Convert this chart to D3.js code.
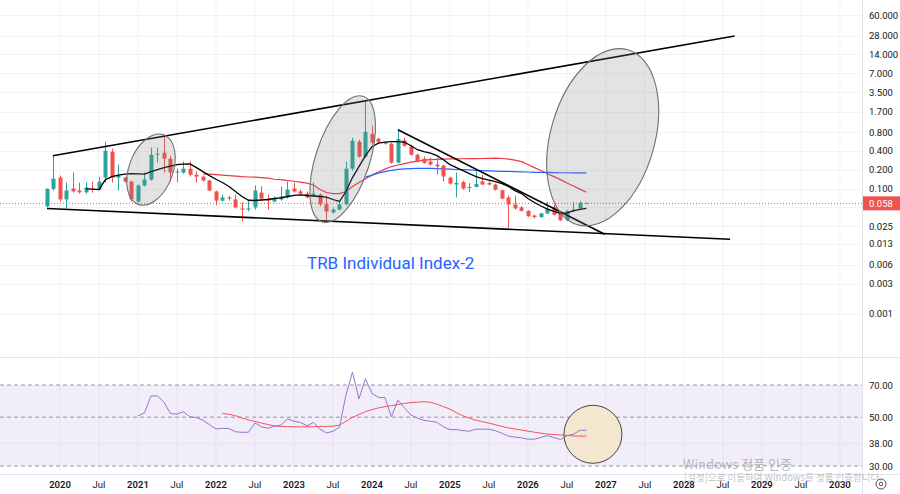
<!DOCTYPE html>
<html>
<head>
<meta charset="utf-8">
<script src="https://cdn.jsdelivr.net/npm/d3@7"></script>
<style>
  body { margin: 0; background: #fff; }
  svg { display: block; font-family: Roboto, "Noto Sans", sans-serif; }
</style>
</head>
<body>
<svg id="chart" width="900" height="494"></svg>
<script>
// monthly candles, index 0 = Nov 2019
var open  = [0.052,0.099,0.150,0.067,0.100,0.093,0.087,0.100,0.096,0.150,0.389,0.150,0.150,0.129,0.062,0.112,0.139,0.348,0.375,0.301,
             0.180,0.180,0.208,0.167,0.155,0.134,0.090,0.064,0.072,0.067,0.048,0.046,0.050,0.086,0.069,0.062,0.067,0.072,0.100,0.090,
             0.083,0.077,0.080,0.056,0.0415,0.046,0.056,0.208,0.562,0.324,0.753,0.627,0.542,0.523,0.260,0.590,0.475,0.348,0.300,0.270,
             0.242,0.233,0.150,0.116,0.127,0.102,0.106,0.130,0.123,0.116,0.094,0.072,0.0556,0.050,0.044,0.037,0.035,0.040,0.051,0.040,
             0.031,0.044,0.048,0.059];
var high  = [0.101,0.336,0.161,0.125,0.180,0.125,0.125,0.129,0.155,0.562,0.435,0.242,0.155,0.134,0.116,0.180,0.451,0.451,0.740,0.336,
             0.208,0.270,0.270,0.187,0.161,0.139,0.093,0.080,0.077,0.080,0.060,0.067,0.112,0.108,0.080,0.075,0.108,0.129,0.125,0.096,
             0.090,0.125,0.083,0.075,0.050,0.062,0.270,0.652,0.604,2.530,1.010,0.652,0.562,0.542,0.870,0.652,0.504,0.362,0.324,0.312,
             0.312,0.242,0.155,0.180,0.134,0.124,0.190,0.167,0.130,0.120,0.096,0.077,0.077,0.052,0.045,0.038,0.041,0.061,0.0556,0.041,
             0.045,0.061,0.063,0.059];
var low   = [0.050,0.093,0.062,0.048,0.086,0.083,0.083,0.086,0.093,0.125,0.125,0.093,0.125,0.062,0.060,0.108,0.134,0.260,0.180,0.129,
             0.125,0.173,0.155,0.125,0.129,0.090,0.054,0.062,0.064,0.048,0.030,0.043,0.046,0.067,0.046,0.060,0.064,0.069,0.086,0.080,
             0.069,0.075,0.052,0.031,0.040,0.045,0.054,0.194,0.312,0.312,0.504,0.523,0.504,0.251,0.251,0.467,0.336,0.260,0.251,0.233,
             0.167,0.130,0.116,0.072,0.096,0.088,0.104,0.114,0.112,0.093,0.067,0.023,0.046,0.043,0.035,0.033,0.034,0.039,0.037,0.030,
             0.030,0.043,0.047,0.057];
var close = [0.099,0.144,0.067,0.093,0.090,0.087,0.104,0.096,0.129,0.404,0.150,0.161,0.129,0.067,0.112,0.139,0.348,0.362,0.301,0.180,
             0.187,0.208,0.167,0.155,0.134,0.093,0.064,0.072,0.069,0.050,0.046,0.048,0.093,0.069,0.064,0.069,0.075,0.096,0.090,0.083,
             0.072,0.083,0.056,0.043,0.046,0.056,0.208,0.583,0.324,0.811,0.542,0.562,0.535,0.260,0.620,0.485,0.348,0.270,0.257,0.242,
             0.226,0.156,0.120,0.123,0.100,0.106,0.118,0.116,0.116,0.096,0.069,0.0556,0.048,0.044,0.036,0.035,0.040,0.048,0.038,0.031,
             0.044,0.046,0.059,0.058];

// moving averages (null = not drawn)
var maBlack = [null,null,null,null,null,null,0.099,0.098,0.096,0.139,0.155,0.164,0.170,0.173,0.172,0.170,0.187,0.201,0.216,0.229,
               0.242,0.246,0.248,0.216,0.187,0.161,0.141,0.125,0.108,0.0896,0.0746,0.065,0.0644,0.0656,0.0668,0.0693,0.0711,0.0746,0.078,0.079,
               0.0774,0.076,0.0746,0.0732,0.0668,0.0621,0.0896,0.150,0.225,0.336,0.467,0.532,0.552,0.562,0.562,0.552,0.485,0.419,0.389,0.368,
               0.336,0.290,0.242,0.216,0.194,0.173,0.155,0.144,0.136,0.129,0.120,0.108,0.0929,0.0832,0.0693,0.0598,0.0526,0.047,0.043,0.040,
               0.0407,0.0438,0.0463,0.048];
var maRed = [null,null,null,null,null,null,null,null,null,null,null,null,null,null,null,null,null,null,null,null,
             null,null,null,null,0.171,0.170,0.167,0.164,0.161,0.158,0.155,0.153,0.152,0.150,0.147,0.141,0.139,0.134,0.131,0.127,
             0.122,0.114,0.0964,0.0864,0.0832,0.0832,0.0896,0.108,0.125,0.144,0.164,0.184,0.205,0.225,0.238,0.251,0.265,0.275,0.285,0.290,
             0.293,0.296,0.298,0.299,0.300,0.301,0.301,0.303,0.304,0.306,0.303,0.296,0.285,0.270,0.242,0.216,0.194,0.173,0.155,0.139,
             0.123,0.110,0.098,0.0873];
var maBlue = [null,null,null,null,null,null,null,null,null,null,null,null,null,null,null,null,null,null,null,null,
              null,null,null,null,null,null,null,null,null,null,null,null,null,null,null,null,null,null,null,null,
              null,null,null,null,null,null,null,null,null,0.153,0.164,0.177,0.187,0.196,0.203,0.206,0.208,0.210,0.211,0.210,
              0.208,0.207,0.205,0.202,0.201,0.199,0.196,0.194,0.192,0.190,0.189,0.188,0.186,0.185,0.184,0.182,0.181,0.181,0.180,0.179,
              0.179,0.178,0.178,0.178];

var rsi = [null,null,null,null,null,null,null,null,null,null,null,null,null,null,50.7,52.3,62.4,62.4,58.5,51.9,
           51.6,52.9,50.2,49.8,48.4,46.2,44.2,44.5,44.4,42.9,42.7,42.7,47.1,45.2,44.5,45.5,46.0,49.1,47.9,47.3,
           45.7,47.3,44.1,42.4,43.1,45.0,63.0,80.0,60.6,74.6,64.2,61.5,61.3,50.2,59.8,55.2,51.1,49.5,48.4,47.9,
           47.4,45.2,43.9,43.9,43.4,43.2,44.1,44.1,44.1,43.4,42.3,41.0,40.6,40.3,39.7,39.7,40.5,41.2,40.4,39.6,
           41.2,41.8,43.6,43.6];
var rsiMa = [null,null,null,null,null,null,null,null,null,null,null,null,null,null,null,null,null,null,null,null,
             null,null,null,null,null,null,null,52.0,51.5,50.8,49.5,48.6,47.8,47.0,46.3,45.6,45.4,45.3,45.2,45.2,
             45.2,45.3,45.4,45.4,45.5,46.0,47.9,49.9,51.4,53.0,54.1,55.1,55.8,56.4,57.1,57.7,58.2,58.5,58.8,58.4,
             57.3,55.8,54.4,52.4,50.7,49.5,48.4,47.7,47.0,46.2,45.4,44.7,44.2,43.7,43.2,42.7,42.3,41.9,41.7,41.5,
             41.3,41.1,41.0,41.0];

var priceTicks = [60, 28, 14, 7, 3.5, 1.7, 0.8, 0.4, 0.2, 0.1, 0.05, 0.025, 0.013, 0.006, 0.003, 0.001];
var rsiTicks = [70, 50, 38, 30];
var rsiDashed = [70, 50, 30];
var timeLabels = ['2020','Jul','2021','Jul','2022','Jul','2023','Jul','2024','Jul','2025','Jul',
                  '2026','Jul','2027','Jul','2028','Jul','2029','Jul','2030'];
var firstLabelMonth = 2; // Jan 2020

// drawings: [monthIndex, price]
var trendLines = [
  [[0.9, 0.336], [105.8, 27.6]],
  [[0, 0.048], [105.1, 0.0154]],
  [[54, 0.873], [85.8, 0.0185]]
];
// ellipses: center [monthIndex, price], radii px, tilt deg
var ellipses = [
  { c: [16, 0.201], rx: 22, ry: 37, tilt: 20 },
  { c: [45.5, 0.296], rx: 27, ry: 66, tilt: 18 },
  { c: [85.5, 0.663], rx: 52, ry: 91, tilt: 16 }
];
var rsiCircle = { c: [84, 41.8], r: 29 };
var lastPrice = 0.058;

var W = 900, plotRight = 862;
var svg = d3.select('#chart');

var x = d3.scaleLinear().domain([-7.23, 125.4]).range([0, plotRight]);
var y = d3.scaleLog().domain([0.001, 60]).range([313.5, 15]);
var yr = d3.scaleLog().domain([30, 70]).range([466, 385]);

var fmt = d3.format('.3f');
var idx = d3.range(open.length);
var tickMonths = timeLabels.map(function (d, i) { return firstLabelMonth + 6 * i; });

// grid
var grid = svg.append('g');
grid.selectAll('line.v').data(tickMonths).enter().append('line')
  .attr('x1', function (d) { return x(d); }).attr('x2', function (d) { return x(d); })
  .attr('y1', 0).attr('y2', 475)
  .attr('stroke', '#f0f3fa').attr('stroke-width', 1);
grid.selectAll('line.h').data(priceTicks).enter().append('line')
  .attr('x1', 0).attr('x2', plotRight)
  .attr('y1', function (d) { return Math.round(y(d)) + 0.5; }).attr('y2', function (d) { return Math.round(y(d)) + 0.5; })
  .attr('stroke', '#f0f3fa');

// RSI pane background band
svg.append('rect')
  .attr('x', 0).attr('width', plotRight)
  .attr('y', yr(70)).attr('height', yr(30) - yr(70))
  .attr('fill', 'rgba(126,87,194,0.1)');
svg.append('line')
  .attr('x1', 0).attr('x2', plotRight).attr('y1', yr(38)).attr('y2', yr(38))
  .attr('stroke', '#e6e3f0');
svg.selectAll('line.rsilevel').data(rsiDashed).enter().append('line')
  .attr('x1', 0).attr('x2', plotRight)
  .attr('y1', function (d) { return yr(d); }).attr('y2', function (d) { return yr(d); })
  .attr('stroke', '#9598a1').attr('stroke-dasharray', '4,3');

// last price dotted line
svg.append('line')
  .attr('x1', 0).attr('x2', plotRight)
  .attr('y1', y(lastPrice)).attr('y2', y(lastPrice))
  .attr('stroke', '#ef5350').attr('stroke-width', 1).attr('stroke-dasharray', '1,2');

// moving averages
function lineGen(scale) {
  return d3.line()
    .defined(function (d) { return d.v != null; })
    .x(function (d) { return x(d.i); })
    .y(function (d) { return scale(d.v); });
}
function series(arr) { return arr.map(function (v, i) { return { i: i, v: v }; }); }

svg.append('path').datum(series(maRed)).attr('d', lineGen(y))
  .attr('fill', 'none').attr('stroke', '#f23645').attr('stroke-width', 1.2);
svg.append('path').datum(series(maBlue)).attr('d', lineGen(y))
  .attr('fill', 'none').attr('stroke', '#2962ff').attr('stroke-width', 1.2);

// candles
var up = '#26a69a', down = '#ef5350';
var candles = svg.append('g').selectAll('g').data(idx).enter().append('g');
candles.append('line')
  .attr('x1', function (i) { return Math.round(x(i)) + 0.5; })
  .attr('x2', function (i) { return Math.round(x(i)) + 0.5; })
  .attr('y1', function (i) { return y(high[i]); })
  .attr('y2', function (i) { return y(low[i]); })
  .attr('stroke', function (i) { return close[i] >= open[i] ? up : down; });
candles.append('rect')
  .attr('x', function (i) { return Math.round(x(i)) - 1.5; })
  .attr('width', 4)
  .attr('y', function (i) { return y(Math.max(open[i], close[i])); })
  .attr('height', function (i) { return Math.max(1, Math.abs(y(open[i]) - y(close[i]))); })
  .attr('fill', function (i) { return close[i] >= open[i] ? up : down; });

svg.append('path').datum(series(maBlack)).attr('d', lineGen(y))
  .attr('fill', 'none').attr('stroke', '#000').attr('stroke-width', 1.3);

// trend lines
svg.selectAll('line.trend').data(trendLines).enter().append('line')
  .attr('x1', function (d) { return x(d[0][0]); }).attr('y1', function (d) { return y(d[0][1]); })
  .attr('x2', function (d) { return x(d[1][0]); }).attr('y2', function (d) { return y(d[1][1]); })
  .attr('stroke', '#000').attr('stroke-width', 1.6);

// ellipses
svg.selectAll('ellipse.mark').data(ellipses).enter().append('ellipse')
  .attr('transform', function (d) { return 'translate(' + x(d.c[0]) + ',' + y(d.c[1]) + ') rotate(' + d.tilt + ')'; })
  .attr('rx', function (d) { return d.rx; }).attr('ry', function (d) { return d.ry; })
  .attr('fill', 'rgba(128,128,128,0.22)').attr('stroke', '#707070').attr('stroke-width', 1.1);

// title
svg.append('text')
  .attr('x', 307).attr('y', 269)
  .attr('fill', '#2962ff').attr('font-size', 17)
  .text('TRB Individual Index-2');

// RSI marker circle (under the lines)
svg.append('circle')
  .attr('cx', x(rsiCircle.c[0])).attr('cy', yr(rsiCircle.c[1])).attr('r', rsiCircle.r)
  .attr('fill', '#f3e7cf').attr('stroke', '#444').attr('stroke-width', 1);

// RSI lines
svg.append('path').datum(series(rsiMa)).attr('d', lineGen(yr))
  .attr('fill', 'none').attr('stroke', '#f7525f').attr('stroke-width', 1);
svg.append('path').datum(series(rsi)).attr('d', lineGen(yr))
  .attr('fill', 'none').attr('stroke', '#9575cd').attr('stroke-width', 1);

// pane borders
svg.append('line').attr('x1', 0).attr('x2', W).attr('y1', 357.5).attr('y2', 357.5).attr('stroke', '#e0e3eb');
svg.append('line').attr('x1', 0).attr('x2', W).attr('y1', 474.5).attr('y2', 474.5).attr('stroke', '#e0e3eb');
svg.append('line').attr('x1', plotRight + 0.5).attr('x2', plotRight + 0.5).attr('y1', 0).attr('y2', 494).attr('stroke', '#e0e3eb');

// price axis (labels hidden where the last-price tag covers them)
var shownTicks = priceTicks.filter(function (d) { return Math.abs(y(d) - y(lastPrice)) > 9; });
svg.append('g').selectAll('text').data(shownTicks).enter().append('text')
  .attr('x', 869).attr('y', function (d) { return y(d) + 3.5; })
  .attr('font-size', 9.5).attr('fill', '#131722')
  .text(function (d) { return fmt(d); });

svg.append('rect').attr('x', plotRight + 1).attr('y', y(lastPrice) - 7).attr('width', 37).attr('height', 14)
  .attr('fill', '#ef5350');
svg.append('text').attr('x', 869).attr('y', y(lastPrice) + 3.5)
  .attr('font-size', 9.5).attr('fill', '#fff').text(fmt(lastPrice));

// rsi axis
svg.append('g').selectAll('text').data(rsiTicks).enter().append('text')
  .attr('x', 869).attr('y', function (d) { return yr(d) + 3.5; })
  .attr('font-size', 9.5).attr('fill', '#131722')
  .text(function (d) { return d3.format('.2f')(d); });

// time axis
svg.append('g').selectAll('text').data(timeLabels).enter().append('text')
  .attr('x', function (d, i) { return x(tickMonths[i]); })
  .attr('y', 488)
  .attr('text-anchor', 'middle')
  .attr('font-size', 9.5)
  .attr('font-weight', function (d) { return d === 'Jul' ? 400 : 600; })
  .attr('fill', '#131722')
  .text(function (d) { return d; });

// settings icon
svg.append('circle').attr('cx', 881).attr('cy', 484).attr('r', 5).attr('fill', 'none').attr('stroke', '#555');
svg.append('circle').attr('cx', 881).attr('cy', 484).attr('r', 1.8).attr('fill', 'none').attr('stroke', '#555');

// OS watermark
svg.append('text').attr('x', 683).attr('y', 469).attr('font-size', 13)
  .attr('font-family', '"Noto Sans CJK KR", "Noto Sans", sans-serif')
  .attr('fill', 'rgba(140,140,140,0.6)').text('Windows 정품 인증');
svg.append('text').attr('x', 684).attr('y', 481).attr('font-size', 9.5)
  .attr('font-family', '"Noto Sans CJK KR", "Noto Sans", sans-serif')
  .attr('fill', 'rgba(140,140,140,0.55)').text('[설정]으로 이동하여 Windows를 정품 인증합니다.');
</script>
</body>
</html>
